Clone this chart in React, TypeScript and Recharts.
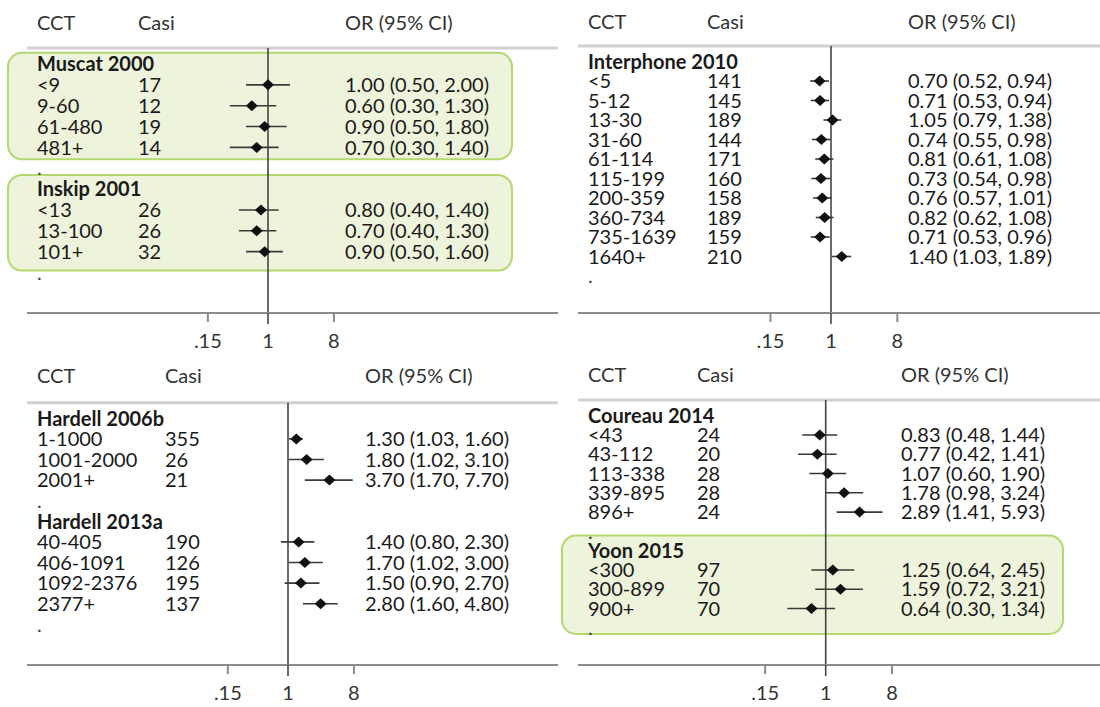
import React from 'react';
import { ScatterChart, Scatter, XAxis, YAxis, ErrorBar, ReferenceLine, ReferenceArea } from 'recharts';

// ---------------- data ----------------
const columnHeaders = ['CCT', 'Casi', 'OR (95% CI)'];
const xTickValues = [0.15, 1, 8];
const xTickLabels = ['.15', '1', '8'];

const muscatName = 'Muscat 2000';
const muscatCCT = ['<9', '9-60', '61-480', '481+'];
const muscatCases = [17, 12, 19, 14];
const muscatOR = [1.0, 0.6, 0.9, 0.7];
const muscatLo = [0.5, 0.3, 0.5, 0.3];
const muscatHi = [2.0, 1.3, 1.8, 1.4];

const inskipName = 'Inskip 2001';
const inskipCCT = ['<13', '13-100', '101+'];
const inskipCases = [26, 26, 32];
const inskipOR = [0.8, 0.7, 0.9];
const inskipLo = [0.4, 0.4, 0.5];
const inskipHi = [1.4, 1.3, 1.6];

const interName = 'Interphone 2010';
const interCCT = ['<5', '5-12', '13-30', '31-60', '61-114', '115-199', '200-359', '360-734', '735-1639', '1640+'];
const interCases = [141, 145, 189, 144, 171, 160, 158, 189, 159, 210];
const interOR = [0.7, 0.71, 1.05, 0.74, 0.81, 0.73, 0.76, 0.82, 0.71, 1.4];
const interLo = [0.52, 0.53, 0.79, 0.55, 0.61, 0.54, 0.57, 0.62, 0.53, 1.03];
const interHi = [0.94, 0.94, 1.38, 0.98, 1.08, 0.98, 1.01, 1.08, 0.96, 1.89];

const hard06Name = 'Hardell 2006b';
const hard06CCT = ['1-1000', '1001-2000', '2001+'];
const hard06Cases = [355, 26, 21];
const hard06OR = [1.3, 1.8, 3.7];
const hard06Lo = [1.03, 1.02, 1.7];
const hard06Hi = [1.6, 3.1, 7.7];

const hard13Name = 'Hardell 2013a';
const hard13CCT = ['40-405', '406-1091', '1092-2376', '2377+'];
const hard13Cases = [190, 126, 195, 137];
const hard13OR = [1.4, 1.7, 1.5, 2.8];
const hard13Lo = [0.8, 1.02, 0.9, 1.6];
const hard13Hi = [2.3, 3.0, 2.7, 4.8];

const coureauName = 'Coureau 2014';
const coureauCCT = ['<43', '43-112', '113-338', '339-895', '896+'];
const coureauCases = [24, 20, 28, 28, 24];
const coureauOR = [0.83, 0.77, 1.07, 1.78, 2.89];
const coureauLo = [0.48, 0.42, 0.6, 0.98, 1.41];
const coureauHi = [1.44, 1.41, 1.9, 3.24, 5.93];

const yoonName = 'Yoon 2015';
const yoonCCT = ['<300', '300-899', '900+'];
const yoonCases = [97, 70, 70];
const yoonOR = [1.25, 1.59, 0.64];
const yoonLo = [0.64, 0.72, 0.3];
const yoonHi = [2.45, 3.21, 1.34];

// highlighted groups (row-unit extents)
const boxesTL = [[-0.54, 4.57], [5.32, 9.91]];
const boxesBR = [[6.22, 11.32]];

// ---------------- helpers ----------------
type Study = { name: string; cct: string[]; cases: number[]; or: number[]; lo: number[]; hi: number[] };
type Row = { kind: 'study' | 'item' | 'dot'; idx: number; label?: string; cases?: number; or?: number; lo?: number; hi?: number };

const mk = (name: string, cct: string[], cases: number[], or: number[], lo: number[], hi: number[]): Study => ({ name, cct, cases, or, lo, hi });

function buildRows(studies: Study[]): Row[] {
  const rows: Row[] = [];
  let i = 0;
  for (const s of studies) {
    rows.push({ kind: 'study', idx: i++, label: s.name });
    s.cct.forEach((c, j) =>
      rows.push({ kind: 'item', idx: i++, label: c, cases: s.cases[j], or: s.or[j], lo: s.lo[j], hi: s.hi[j] })
    );
    rows.push({ kind: 'dot', idx: i++ });
  }
  return rows;
}

const FONT = 'Lato, "Open Sans", sans-serif';
const FS = 20;
const f2 = (v: number) => v.toFixed(2);

type Layout = {
  left: number; top: number; width: number; height: number;
  plotLeft: number; plotRight: number; plotTop: number; plotBottom: number;
  oneX: number; pxPerLn: number; row0: number; rowStep: number;
  colCCT: number; colCasi: number; colOR: number; headerY: number;
  boxes: number[][]; boxX: number; boxW: number;
};

const Diamond = (p: any) => {
  const { cx, cy } = p;
  if (cx == null || cy == null) return <g />;
  return <path d={`M${cx - 6},${cy} L${cx},${cy - 5.5} L${cx + 6},${cy} L${cx},${cy + 5.5} Z`} fill="#111" />;
};

function Panel({ studies, L }: { studies: Study[]; L: Layout }) {
  const rows = buildRows(studies);
  const points = rows
    .filter((r) => r.kind === 'item')
    .map((r) => ({ x: r.or as number, y: r.idx, err: [(r.or as number) - (r.lo as number), (r.hi as number) - (r.or as number)] }));
  const xMin = Math.exp((L.plotLeft - L.oneX) / L.pxPerLn);
  const xMax = Math.exp((L.plotRight - L.oneX) / L.pxPerLn);
  const yMin = (L.plotTop - L.row0) / L.rowStep;
  const yMax = (L.plotBottom - L.row0) / L.rowStep;

  const RowTick = (p: any) => {
    const r = rows[Math.round(p.payload.value)];
    if (!r) return <g />;
    const y = p.y;
    if (r.kind === 'study') {
      return (
        <text x={L.colCCT} y={y} dy="0.36em" fontSize={FS} fontWeight={700} fill="#1a1a1a" fontFamily={FONT}>
          {r.label}
        </text>
      );
    }
    if (r.kind === 'dot') {
      return (
        <text x={L.colCCT} y={y} dy="0.36em" fontSize={FS} fill="#444" fontFamily={FONT}>
          .
        </text>
      );
    }
    return (
      <g fontFamily={FONT} fontSize={FS} fill="#1a1a1a">
        <text x={L.colCCT} y={y} dy="0.36em">{r.label}</text>
        <text x={L.colCasi} y={y} dy="0.36em">{r.cases}</text>
        <text x={L.colOR} y={y} dy="0.36em">{`${f2(r.or as number)} (${f2(r.lo as number)}, ${f2(r.hi as number)})`}</text>
      </g>
    );
  };

  const XTick = (p: any) => {
    const v = p.payload.value;
    const isOne = v === 1;
    const i = xTickValues.indexOf(v);
    const ay = L.plotBottom;
    return (
      <g>
        <line x1={p.x} x2={p.x} y1={ay} y2={ay + (isOne ? 11 : 9)} stroke={isOne ? '#444' : '#8c8c8c'} strokeWidth={isOne ? 1.6 : 2} />
        <text x={p.x} y={ay + 28} dy="0.36em" textAnchor="middle" fontSize={FS} fill="#333" fontFamily={FONT}>
          {i >= 0 ? xTickLabels[i] : String(v)}
        </text>
      </g>
    );
  };

  const HeaderLabels = () => (
    <g fontFamily={FONT} fontSize={20} fill="#333">
      <text x={L.colCCT} y={L.headerY} dy="0.36em">{columnHeaders[0]}</text>
      <text x={L.colCasi} y={L.headerY} dy="0.36em">{columnHeaders[1]}</text>
      <text x={L.colOR} y={L.headerY} dy="0.36em">{columnHeaders[2]}</text>
    </g>
  );

  const BoxShape = (p: any) => (
    <rect x={L.boxX} y={p.y} width={L.boxW} height={p.height} rx={14} ry={14} fill="#eef3dc" stroke="#b3d86f" strokeWidth={2} />
  );

  return (
    <div style={{ position: 'absolute', left: L.left, top: L.top }}>
      <ScatterChart
        width={L.width}
        height={L.height}
        margin={{ top: L.plotTop, left: L.plotLeft - 1, right: L.width - L.plotRight, bottom: 0 }}
      >
        <XAxis
          type="number"
          dataKey="x"
          scale="log"
          domain={[xMin, xMax]}
          allowDataOverflow
          ticks={xTickValues}
          interval={0}
          height={L.height - L.plotBottom}
          stroke="#8c8c8c"
          strokeWidth={2}
          tickLine={false}
          tick={(p: any) => <XTick {...p} />}
        />
        <YAxis
          type="number"
          dataKey="y"
          domain={[yMin, yMax]}
          allowDataOverflow
          reversed
          width={1}
          axisLine={false}
          tickLine={false}
          ticks={rows.map((r) => r.idx)}
          interval={0}
          tick={(p: any) => <RowTick {...p} />}
        />
        {L.boxes.map((b, i) => (
          <ReferenceArea key={'b' + i} y1={b[0]} y2={b[1]} ifOverflow="visible" shape={(p: any) => <BoxShape {...p} />} />
        ))}
        <ReferenceLine y={yMin} stroke="#d0d0d0" strokeWidth={3} ifOverflow="visible" label={() => <HeaderLabels />} />
        <ReferenceLine x={1} stroke="#444" strokeWidth={1.6} ifOverflow="visible" />
        <Scatter data={points} shape={(p: any) => <Diamond {...p} />} isAnimationActive={false}>
          <ErrorBar dataKey="err" direction="x" width={0} stroke="#3a3a3a" strokeWidth={1.6} isAnimationActive={false} />
        </Scatter>
      </ScatterChart>
    </div>
  );
}

const layoutTL: Layout = {
  left: 0, top: 0, width: 560, height: 353,
  plotLeft: 27, plotRight: 558, plotTop: 48, plotBottom: 313,
  oneX: 268, pxPerLn: 31.7, row0: 64, rowStep: 20.85,
  colCCT: 37, colCasi: 138, colOR: 345, headerY: 23,
  boxes: boxesTL, boxX: 8, boxW: 504,
};
const layoutTR: Layout = {
  left: 560, top: 0, width: 540, height: 353,
  plotLeft: 18, plotRight: 540, plotTop: 46, plotBottom: 313,
  oneX: 271, pxPerLn: 31.9, row0: 61.5, rowStep: 19.5,
  colCCT: 28, colCasi: 147, colOR: 348, headerY: 22,
  boxes: [], boxX: 0, boxW: 0,
};
const layoutBL: Layout = {
  left: 0, top: 353, width: 560, height: 354,
  plotLeft: 27, plotRight: 558, plotTop: 49.7, plotBottom: 312,
  oneX: 288, pxPerLn: 31.7, row0: 65.3, rowStep: 20.6,
  colCCT: 37, colCasi: 165, colOR: 365, headerY: 23,
  boxes: [], boxX: 0, boxW: 0,
};
const layoutBR: Layout = {
  left: 560, top: 353, width: 540, height: 354,
  plotLeft: 18, plotRight: 540, plotTop: 47, plotBottom: 312,
  oneX: 265.7, pxPerLn: 31.9, row0: 62.7, rowStep: 19.28,
  colCCT: 28, colCasi: 137, colOR: 341, headerY: 22,
  boxes: boxesBR, boxX: 2, boxW: 501,
};

export default function App() {
  const tl = [mk(muscatName, muscatCCT, muscatCases, muscatOR, muscatLo, muscatHi), mk(inskipName, inskipCCT, inskipCases, inskipOR, inskipLo, inskipHi)];
  const tr = [mk(interName, interCCT, interCases, interOR, interLo, interHi)];
  const bl = [mk(hard06Name, hard06CCT, hard06Cases, hard06OR, hard06Lo, hard06Hi), mk(hard13Name, hard13CCT, hard13Cases, hard13OR, hard13Lo, hard13Hi)];
  const br = [mk(coureauName, coureauCCT, coureauCases, coureauOR, coureauLo, coureauHi), mk(yoonName, yoonCCT, yoonCases, yoonOR, yoonLo, yoonHi)];
  return (
    <div style={{ position: 'absolute', left: 0, top: 0, width: 1100, height: 707, background: '#fff', overflow: 'hidden' }}>
      <Panel studies={tl} L={layoutTL} />
      <Panel studies={tr} L={layoutTR} />
      <Panel studies={bl} L={layoutBL} />
      <Panel studies={br} L={layoutBR} />
    </div>
  );
}
